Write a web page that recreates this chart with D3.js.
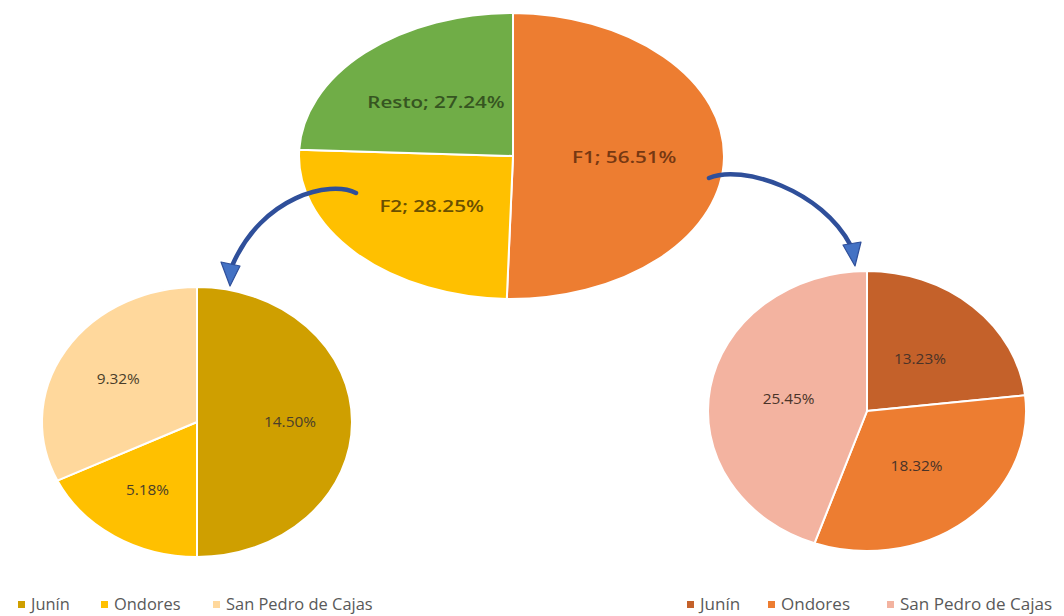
<!DOCTYPE html>
<html>
<head>
<meta charset="utf-8">
<script src="https://cdn.jsdelivr.net/npm/d3@7"></script>
<style>
  html, body { margin: 0; padding: 0; background: #ffffff; }
  svg { display: block; font-family: "Open Sans", "Noto Sans", sans-serif; }
</style>
</head>
<body>
<svg id="chart" width="1064" height="616"></svg>
<script>
// Share of the whole: the two fractions and the rest
const mainCategories = ["F1", "F2", "Resto"];
const mainValues = [56.51, 28.25, 27.24];
const mainColors = ["#ED7D31", "#FFC000", "#70AD47"];
const mainTextColors = ["#763812", "#6A4F00", "#365521"];

// Breakdown of F2 by locality
const localities = ["Junín", "Ondores", "San Pedro de Cajas"];
const f2Values = [14.50, 5.18, 9.32];
const f2Colors = ["#CF9F00", "#FFC000", "#FFD89C"];

// Breakdown of F1 by locality
const f1Values = [13.23, 18.32, 25.45];
const f1Colors = ["#C4612A", "#ED7D31", "#F3B3A0"];

const svg = d3.select("#chart");

const pie = d3.pie().sort(null).value(d => d.value);
const unitArc = d3.arc().innerRadius(0).outerRadius(1);

// Draws an elliptical pie: slices are built on a unit circle and stretched to rx/ry
function drawPie(opts) {
  const data = opts.categories.map((c, i) => ({ cat: c, value: opts.values[i], color: opts.colors[i], text: opts.textColors ? opts.textColors[i] : opts.textColor }));
  const arcs = pie(data);
  const g = svg.append("g");
  g.append("g")
    .attr("transform", `translate(${opts.cx},${opts.cy}) scale(${opts.rx},${opts.ry})`)
    .selectAll("path")
    .data(arcs)
    .join("path")
    .attr("d", unitArc)
    .attr("fill", d => d.data.color)
    .attr("stroke", "#ffffff")
    .attr("stroke-width", 2)
    .attr("vector-effect", "non-scaling-stroke");

  const labelArc = d3.arc().innerRadius(opts.labelR).outerRadius(opts.labelR);
  g.selectAll("text")
    .data(arcs)
    .join("text")
    .attr("transform", d => {
      const c = labelArc.centroid(d);
      return `translate(${opts.cx + c[0] * opts.rx},${opts.cy + c[1] * opts.ry}) scale(${opts.stretch},1)`;
    })
    .attr("dy", "0.35em")
    .attr("text-anchor", "middle")
    .attr("font-size", opts.fontSize)
    .attr("font-weight", opts.fontWeight)
    .attr("fill", d => d.data.text)
    .text(opts.format);
}

drawPie({
  categories: mainCategories, values: mainValues, colors: mainColors, textColors: mainTextColors,
  cx: 513, cy: 156, rx: 214, ry: 143, labelR: 0.52,
  fontSize: 16.5, fontWeight: 600, stretch: 1.25,
  format: d => `${d.data.cat}; ${d.data.value.toFixed(2)}%`
});

drawPie({
  categories: localities, values: f2Values, colors: f2Colors, textColor: "#4A3E2A",
  cx: 197, cy: 422, rx: 155, ry: 135, labelR: 0.6,
  fontSize: 14, fontWeight: 400, stretch: 1.1,
  format: d => `${d.data.value.toFixed(2)}%`
});

drawPie({
  categories: localities, values: f1Values, colors: f1Colors, textColor: "#4A3328",
  cx: 867, cy: 411, rx: 159, ry: 140, labelR: 0.5,
  fontSize: 14, fontWeight: 400, stretch: 1.1,
  format: d => `${d.data.value.toFixed(2)}%`
});

// Curved connector arrows from each fraction to its breakdown
function drawArrow(pathD, head) {
  svg.append("path")
    .attr("d", pathD)
    .attr("fill", "none")
    .attr("stroke", "#2F4F9A")
    .attr("stroke-width", 4.5)
    .attr("stroke-linecap", "round");
  svg.append("path")
    .attr("d", d3.line()(head) + "Z")
    .attr("fill", "#4472C4")
    .attr("stroke", "#2F4F9A")
    .attr("stroke-width", 1.2)
    .attr("stroke-linejoin", "round");
}

drawArrow("M356,193 C330,180 262,196 232,266", [[221, 262], [240, 266], [230, 286]]);
drawArrow("M709,178 C742,164 822,190 851,246", [[843, 245], [861, 242], [855, 266]]);

// Legends under each breakdown: marker x positions per entry
function drawLegend(markerX, colors, stretch) {
  const g = svg.append("g").attr("transform", "translate(0,605)");
  localities.forEach((name, i) => {
    g.append("rect").attr("x", markerX[i]).attr("y", -4).attr("width", 7).attr("height", 7).attr("fill", colors[i]);
    g.append("text")
      .attr("transform", `translate(${markerX[i] + 13},0) scale(${stretch},1)`)
      .attr("dy", "0.35em")
      .attr("font-size", 15.5).attr("fill", "#595959")
      .text(name);
  });
}
drawLegend([18, 101, 213], f2Colors, 1.06);
drawLegend([687, 768, 887], f1Colors, 1.1);
</script>
</body>
</html>
